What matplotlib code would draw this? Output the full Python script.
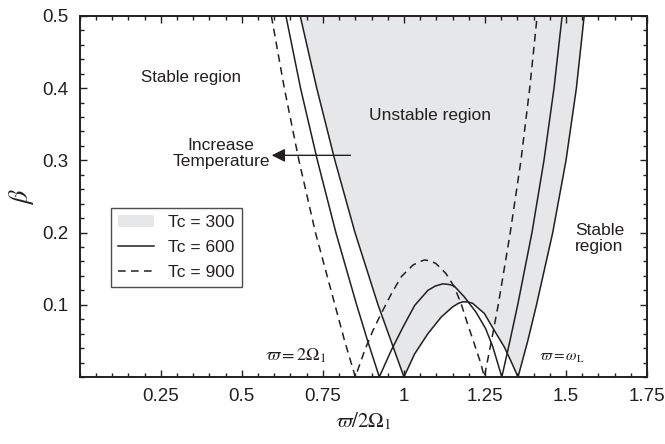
import matplotlib
matplotlib.use('Agg')
import matplotlib.pyplot as plt
from matplotlib.patches import Patch
from matplotlib.lines import Line2D
from matplotlib.ticker import MultipleLocator

plt.rcParams['font.family'] = ['Liberation Sans', 'DejaVu Sans']
plt.rcParams['mathtext.fontset'] = 'stix'

# left branches (beta going down to zero)
beta_left = [0.5, 0.4, 0.3, 0.2, 0.1, 0.05, 0.0]
x300_left = [0.680, 0.731, 0.787, 0.849, 0.920, 0.960, 1.000]
x600_left = [0.636, 0.681, 0.733, 0.790, 0.854, 0.888, 0.924]
x900_left = [0.591, 0.631, 0.676, 0.727, 0.787, 0.817, 0.850]

# arches between the two resonance points
arch300_x = [1.000, 1.033, 1.074, 1.115, 1.150, 1.168, 1.181, 1.196, 1.212, 1.248, 1.278, 1.309, 1.329, 1.352]
arch300_b = [0.0, 0.032, 0.060, 0.083, 0.097, 0.102, 0.104, 0.104, 0.102, 0.088, 0.065, 0.042, 0.023, 0.0]
arch600_x = [0.924, 0.961, 0.997, 1.033, 1.074, 1.097, 1.120, 1.140, 1.155, 1.186, 1.222, 1.252, 1.274, 1.302]
arch600_b = [0.0, 0.037, 0.069, 0.099, 0.120, 0.126, 0.129, 0.128, 0.126, 0.111, 0.090, 0.067, 0.042, 0.0]
arch900_x = [0.850, 0.879, 0.905, 0.930, 0.961, 0.992, 1.028, 1.045, 1.063, 1.081, 1.099, 1.130, 1.155, 1.176, 1.196, 1.217, 1.237, 1.248]
arch900_b = [0.0, 0.037, 0.065, 0.088, 0.115, 0.139, 0.155, 0.159, 0.162, 0.161, 0.157, 0.143, 0.125, 0.102, 0.074, 0.046, 0.019, 0.0]

# right branches (beta going up)
beta_right = [0.0, 0.05, 0.1, 0.2, 0.3, 0.4, 0.5]
x300_right = [1.352, 1.382, 1.409, 1.459, 1.500, 1.532, 1.556]
x600_right = [1.302, 1.327, 1.351, 1.395, 1.432, 1.463, 1.488]
x900_right = [1.248, 1.270, 1.291, 1.328, 1.361, 1.388, 1.411]

xticks = [0.25, 0.5, 0.75, 1.0, 1.25, 1.5, 1.75]
xtick_labels = ['0.25', '0.5', '0.75', '1', '1.25', '1.5', '1.75']
yticks = [0.1, 0.2, 0.3, 0.4, 0.5]
ytick_labels = ['0.1', '0.2', '0.3', '0.4', '0.5']


def join(xl, bl, xa, ba, xr, br):
    x = list(xl) + list(xa[1:]) + list(xr[1:])
    y = list(bl) + list(ba[1:]) + list(br[1:])
    return x, y


x300, y300 = join(x300_left, beta_left, arch300_x, arch300_b, x300_right, beta_right)
x600, y600 = join(x600_left, beta_left, arch600_x, arch600_b, x600_right, beta_right)
x900, y900 = join(x900_left, beta_left, arch900_x, arch900_b, x900_right, beta_right)

shade = '#e6e7e8'
ink = '#231f20'
dash = (0, (5, 3.5))

fig = plt.figure(figsize=(6.65, 4.44), dpi=100)
ax = fig.add_axes([0.120, 0.151, 0.853, 0.813])

ax.fill_between(x300, y300, 0.5, color=shade, lw=0, zorder=1)
ax.plot(x300, y300, color=ink, lw=1.1, zorder=3)
ax.plot(x600, y600, color=ink, lw=1.1, zorder=3)
ax.plot(x900, y900, color=ink, lw=1.1, ls=dash, zorder=3)

ax.set_xlim(0, 1.75)
ax.set_ylim(0, 0.5)
ax.set_xticks(xticks)
ax.set_xticklabels(xtick_labels)
ax.set_yticks(yticks)
ax.set_yticklabels(ytick_labels)
ax.xaxis.set_minor_locator(MultipleLocator(0.05))
ax.yaxis.set_minor_locator(MultipleLocator(0.02))
ax.tick_params(which='both', direction='in', top=True, right=True,
               colors=ink, labelsize=13.5, width=1.0)
ax.tick_params(which='major', length=5, pad=8)
ax.tick_params(which='minor', length=3)
for s in ax.spines.values():
    s.set_linewidth(1.4)
    s.set_color(ink)

ax.set_xlabel(r'$\varpi/2\Omega_1$', fontsize=15, color=ink, labelpad=4)
ax.set_ylabel(r'$\beta$', fontsize=19, color=ink, rotation=90, va='center')
ax.yaxis.set_label_coords(-0.102, 0.5)

ax.text(0.344, 0.415, 'Stable region', fontsize=12.2, color=ink, ha='center', va='center')
ax.text(1.079, 0.362, 'Unstable region', fontsize=12.5, color=ink, ha='center', va='center')
ax.text(1.603, 0.192, 'Stable\nregion', fontsize=12.5, color=ink, ha='center', va='center',
        linespacing=1.1)
ax.text(0.436, 0.309, 'Increase\nTemperature', fontsize=12.5, color=ink, ha='center', va='center',
        linespacing=1.1)
ax.annotate('', xy=(0.592, 0.307), xytext=(0.835, 0.307),
            arrowprops=dict(arrowstyle='-|>', color=ink, lw=1.0,
                            mutation_scale=20, shrinkA=0, shrinkB=0), zorder=4)
ax.text(0.667, 0.029, r'$\varpi = 2\Omega_1$', fontsize=13, color=ink, ha='center', va='center')
ax.text(1.488, 0.026, r'$\varpi = \omega_{\rm L}$', fontsize=11, color=ink, ha='center', va='center')

handles = [Patch(facecolor=shade, edgecolor='none'),
           Line2D([], [], color=ink, lw=1.1),
           Line2D([], [], color=ink, lw=1.1, ls=dash)]
labels = ['Tc = 300', 'Tc = 600', 'Tc = 900']
leg = ax.legend(handles, labels, loc='upper left', bbox_to_anchor=(0.055, 0.467),
                borderaxespad=0, fontsize=12.5, frameon=True, fancybox=False,
                handlelength=2.1, handletextpad=0.8, labelspacing=0.55,
                borderpad=0.4)
leg.get_frame().set_edgecolor(ink)
leg.get_frame().set_linewidth(1.0)
for t in leg.get_texts():
    t.set_color(ink)

fig.savefig('out.png', dpi=100)
